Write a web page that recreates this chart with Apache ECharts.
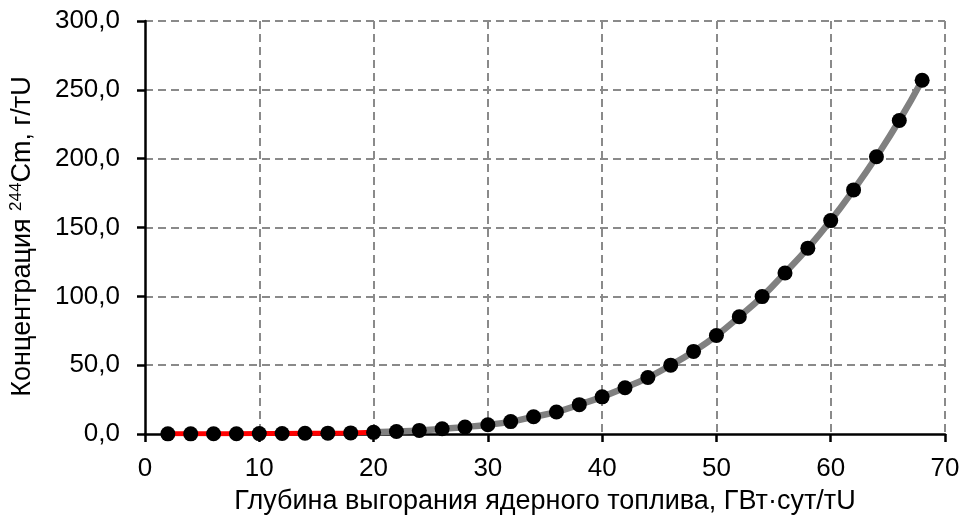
<!DOCTYPE html>
<html>
<head>
<meta charset="utf-8">
<script src="https://cdn.jsdelivr.net/npm/echarts@6/dist/echarts.min.js"></script>
<style>html,body{margin:0;padding:0;background:#fff}#c{width:962px;height:515px}</style>
</head>
<body>
<div id="c"></div>
<script>
const burnup = [2,4,6,8,10,12,14,16,18,20,22,24,26,28,30,32,34,36,38,40,42,44,46,48,50,52,54,56,58,60,62,64,66,68];
const cm244 = [0.1,0.1,0.2,0.2,0.3,0.4,0.5,0.6,0.8,1.2,1.8,2.6,3.8,5.1,6.7,9.0,12.5,16.0,21.3,27.0,33.6,41.0,50.0,60.0,71.5,85.2,99.8,117.0,135.0,155.0,177.3,201.4,227.7,257.0];
const redEndX = 20;
const xTitle = 'Глубина выгорания ядерного топлива, ГВт·сут/тU';
const yTitleParts = ['Концентрация ', '244', 'Cm, г/тU'];

const pts = burnup.map((x, i) => [x, cm244[i]]);
const redPts = pts.filter(p => p[0] <= redEndX);
const grayPts = pts.filter(p => p[0] >= redEndX);
const FONT = 'Liberation Sans, Arial, sans-serif';
const FS = 26;
const FN = 27;
const fmt = v => v.toFixed(1).replace('.', ',');

const chart = echarts.init(document.getElementById('c'), null, {renderer: 'canvas'});
chart.setOption({
  animation: false,
  backgroundColor: '#fff',
  grid: {left: 145, right: 17, top: 21, bottom: 81, containLabel: false, outerBoundsMode: 'none'},
  xAxis: {
    type: 'value', min: 0, max: 70, interval: 10,
    name: xTitle, nameLocation: 'middle', nameGap: 54,
    nameTextStyle: {fontFamily: FONT, fontSize: FN, color: '#000'},
    axisLine: {onZero: false, lineStyle: {color: '#000', width: 2.5}},
    axisTick: {show: true, inside: false, length: 8, lineStyle: {color: '#000', width: 2.5}},
    axisLabel: {fontFamily: FONT, fontSize: FS, color: '#000', margin: 22},
    splitLine: {show: true, showMinLine: false, lineStyle: {color: '#8a8a8a', width: 2, type: [8, 5]}}
  },
  yAxis: {
    type: 'value', min: 0, max: 300, interval: 50,
    name: '{n|' + yTitleParts[0] + '}{sup|' + yTitleParts[1] + '}{n|' + yTitleParts[2] + '}',
    nameLocation: 'middle', nameGap: 108, nameRotate: 90,
    nameTextStyle: {
      fontFamily: FONT, fontSize: FN, color: '#000', padding: [0, 18, 0, 0],
      rich: {
        n: {fontFamily: FONT, fontSize: FN, color: '#000'},
        sup: {fontFamily: FONT, fontSize: 17, color: '#000', verticalAlign: 'bottom', padding: [0, 0, 12, 0]}
      }
    },
    axisLine: {show: true, lineStyle: {color: '#000', width: 2.5}},
    axisTick: {show: true, inside: false, length: 8, lineStyle: {color: '#000', width: 2.5}},
    axisLabel: {fontFamily: FONT, fontSize: FS, color: '#000', margin: 25, formatter: fmt},
    splitLine: {show: true, showMinLine: false, lineStyle: {color: '#8a8a8a', width: 2, type: [8, 5]}}
  },
  series: [
    {type: 'line', data: grayPts, smooth: true, showSymbol: false, lineStyle: {color: '#808080', width: 6.5}, z: 2},
    {type: 'line', data: redPts, smooth: false, showSymbol: false, lineStyle: {color: '#ff0000', width: 5}, z: 3},
    {type: 'scatter', data: pts, symbol: 'circle', symbolSize: 15, itemStyle: {color: '#000', opacity: 1}, z: 4}
  ]
});
</script>
</body>
</html>
